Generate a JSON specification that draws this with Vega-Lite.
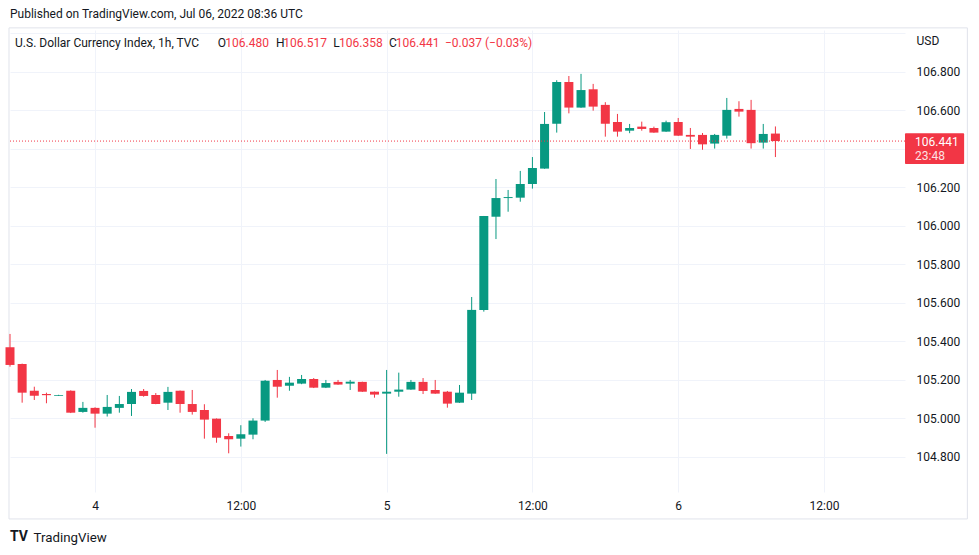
{
  "$schema": "https://vega.github.io/schema/vega-lite/v6.json",
  "width": 895,
  "height": 462,
  "autosize": {"type": "none"},
  "padding": {"left": 10, "top": 30, "right": 74, "bottom": 63},
  "background": "white",
  "title": {
    "text": "Published on TradingView.com, Jul 06, 2022 08:36 UTC",
    "anchor": "start",
    "frame": "group",
    "font": "Roboto",
    "fontSize": 12,
    "fontWeight": "normal",
    "color": "#131722",
    "offset": 6
  },
  "config": {
    "view": {"stroke": null},
    "axis": {
      "labelFont": "Roboto",
      "labelFontSize": 12,
      "labelColor": "#131722",
      "titleFont": "Roboto",
      "titleColor": "#131722",
      "titleFontWeight": "normal",
      "gridColor": "#f0f3fa",
      "gridWidth": 1,
      "domain": false,
      "ticks": false
    }
  },
  "datasets": {
    "candles": [
      {"t": "2022-07-03T17:00:00Z", "o": 105.370, "h": 105.439, "l": 105.269, "c": 105.278},
      {"t": "2022-07-03T18:00:00Z", "o": 105.283, "h": 105.285, "l": 105.082, "c": 105.134},
      {"t": "2022-07-03T19:00:00Z", "o": 105.144, "h": 105.165, "l": 105.096, "c": 105.118},
      {"t": "2022-07-03T20:00:00Z", "o": 105.127, "h": 105.134, "l": 105.079, "c": 105.121},
      {"t": "2022-07-03T21:00:00Z", "o": 105.118, "h": 105.123, "l": 105.117, "c": 105.122},
      {"t": "2022-07-03T22:00:00Z", "o": 105.144, "h": 105.146, "l": 105.028, "c": 105.030},
      {"t": "2022-07-03T23:00:00Z", "o": 105.034, "h": 105.086, "l": 105.030, "c": 105.055},
      {"t": "2022-07-04T00:00:00Z", "o": 105.055, "h": 105.058, "l": 104.952, "c": 105.025},
      {"t": "2022-07-04T01:00:00Z", "o": 105.025, "h": 105.122, "l": 105.010, "c": 105.060},
      {"t": "2022-07-04T02:00:00Z", "o": 105.055, "h": 105.117, "l": 105.030, "c": 105.075},
      {"t": "2022-07-04T03:00:00Z", "o": 105.075, "h": 105.153, "l": 105.013, "c": 105.138},
      {"t": "2022-07-04T04:00:00Z", "o": 105.143, "h": 105.153, "l": 105.113, "c": 105.117},
      {"t": "2022-07-04T05:00:00Z", "o": 105.122, "h": 105.132, "l": 105.074, "c": 105.075},
      {"t": "2022-07-04T06:00:00Z", "o": 105.082, "h": 105.164, "l": 105.044, "c": 105.138},
      {"t": "2022-07-04T07:00:00Z", "o": 105.144, "h": 105.145, "l": 105.030, "c": 105.075},
      {"t": "2022-07-04T08:00:00Z", "o": 105.075, "h": 105.148, "l": 105.020, "c": 105.034},
      {"t": "2022-07-04T09:00:00Z", "o": 105.044, "h": 105.074, "l": 104.895, "c": 104.994},
      {"t": "2022-07-04T10:00:00Z", "o": 104.999, "h": 105.000, "l": 104.874, "c": 104.900},
      {"t": "2022-07-04T11:00:00Z", "o": 104.909, "h": 104.923, "l": 104.819, "c": 104.892},
      {"t": "2022-07-04T12:00:00Z", "o": 104.895, "h": 104.965, "l": 104.854, "c": 104.918},
      {"t": "2022-07-04T13:00:00Z", "o": 104.916, "h": 105.001, "l": 104.892, "c": 104.989},
      {"t": "2022-07-04T14:00:00Z", "o": 104.989, "h": 105.200, "l": 104.982, "c": 105.196},
      {"t": "2022-07-04T15:00:00Z", "o": 105.200, "h": 105.252, "l": 105.108, "c": 105.165},
      {"t": "2022-07-04T16:00:00Z", "o": 105.170, "h": 105.216, "l": 105.144, "c": 105.186},
      {"t": "2022-07-04T17:00:00Z", "o": 105.181, "h": 105.226, "l": 105.178, "c": 105.205},
      {"t": "2022-07-04T18:00:00Z", "o": 105.205, "h": 105.210, "l": 105.158, "c": 105.160},
      {"t": "2022-07-04T19:00:00Z", "o": 105.160, "h": 105.200, "l": 105.158, "c": 105.184},
      {"t": "2022-07-04T20:00:00Z", "o": 105.190, "h": 105.200, "l": 105.175, "c": 105.176},
      {"t": "2022-07-04T21:00:00Z", "o": 105.181, "h": 105.200, "l": 105.148, "c": 105.191},
      {"t": "2022-07-04T22:00:00Z", "o": 105.190, "h": 105.191, "l": 105.138, "c": 105.139},
      {"t": "2022-07-04T23:00:00Z", "o": 105.139, "h": 105.140, "l": 105.108, "c": 105.124},
      {"t": "2022-07-05T00:00:00Z", "o": 105.129, "h": 105.252, "l": 104.816, "c": 105.139},
      {"t": "2022-07-05T01:00:00Z", "o": 105.139, "h": 105.238, "l": 105.113, "c": 105.150},
      {"t": "2022-07-05T02:00:00Z", "o": 105.150, "h": 105.200, "l": 105.149, "c": 105.190},
      {"t": "2022-07-05T03:00:00Z", "o": 105.190, "h": 105.210, "l": 105.127, "c": 105.143},
      {"t": "2022-07-05T04:00:00Z", "o": 105.148, "h": 105.200, "l": 105.128, "c": 105.129},
      {"t": "2022-07-05T05:00:00Z", "o": 105.139, "h": 105.143, "l": 105.056, "c": 105.077},
      {"t": "2022-07-05T06:00:00Z", "o": 105.082, "h": 105.174, "l": 105.081, "c": 105.134},
      {"t": "2022-07-05T07:00:00Z", "o": 105.129, "h": 105.631, "l": 105.096, "c": 105.564},
      {"t": "2022-07-05T08:00:00Z", "o": 105.564, "h": 106.052, "l": 105.555, "c": 106.052},
      {"t": "2022-07-05T09:00:00Z", "o": 106.048, "h": 106.244, "l": 105.932, "c": 106.145},
      {"t": "2022-07-05T10:00:00Z", "o": 106.145, "h": 106.187, "l": 106.074, "c": 106.150},
      {"t": "2022-07-05T11:00:00Z", "o": 106.147, "h": 106.286, "l": 106.126, "c": 106.218},
      {"t": "2022-07-05T12:00:00Z", "o": 106.218, "h": 106.358, "l": 106.194, "c": 106.301},
      {"t": "2022-07-05T13:00:00Z", "o": 106.298, "h": 106.592, "l": 106.297, "c": 106.530},
      {"t": "2022-07-05T14:00:00Z", "o": 106.531, "h": 106.757, "l": 106.485, "c": 106.748},
      {"t": "2022-07-05T15:00:00Z", "o": 106.748, "h": 106.779, "l": 106.585, "c": 106.615},
      {"t": "2022-07-05T16:00:00Z", "o": 106.615, "h": 106.790, "l": 106.614, "c": 106.706},
      {"t": "2022-07-05T17:00:00Z", "o": 106.710, "h": 106.738, "l": 106.599, "c": 106.620},
      {"t": "2022-07-05T18:00:00Z", "o": 106.629, "h": 106.643, "l": 106.464, "c": 106.531},
      {"t": "2022-07-05T19:00:00Z", "o": 106.540, "h": 106.582, "l": 106.464, "c": 106.490},
      {"t": "2022-07-05T20:00:00Z", "o": 106.495, "h": 106.530, "l": 106.482, "c": 106.509},
      {"t": "2022-07-05T21:00:00Z", "o": 106.516, "h": 106.542, "l": 106.495, "c": 106.504},
      {"t": "2022-07-05T22:00:00Z", "o": 106.509, "h": 106.516, "l": 106.484, "c": 106.485},
      {"t": "2022-07-05T23:00:00Z", "o": 106.490, "h": 106.547, "l": 106.489, "c": 106.539},
      {"t": "2022-07-06T00:00:00Z", "o": 106.540, "h": 106.561, "l": 106.468, "c": 106.469},
      {"t": "2022-07-06T01:00:00Z", "o": 106.473, "h": 106.509, "l": 106.400, "c": 106.464},
      {"t": "2022-07-06T02:00:00Z", "o": 106.473, "h": 106.483, "l": 106.396, "c": 106.424},
      {"t": "2022-07-06T03:00:00Z", "o": 106.428, "h": 106.478, "l": 106.402, "c": 106.473},
      {"t": "2022-07-06T04:00:00Z", "o": 106.469, "h": 106.665, "l": 106.454, "c": 106.603},
      {"t": "2022-07-06T05:00:00Z", "o": 106.608, "h": 106.648, "l": 106.568, "c": 106.594},
      {"t": "2022-07-06T06:00:00Z", "o": 106.603, "h": 106.655, "l": 106.402, "c": 106.430},
      {"t": "2022-07-06T07:00:00Z", "o": 106.433, "h": 106.530, "l": 106.402, "c": 106.478},
      {"t": "2022-07-06T08:00:00Z", "o": 106.480, "h": 106.517, "l": 106.358, "c": 106.441}
    ],
    "header": [
      {"t": "2022-07-03T17:25:00Z", "label": "U.S. Dollar Currency Index, 1h, TVC", "kind": "name"},
      {"t": "2022-07-04T10:06:00Z", "label": "O", "kind": "name"},
      {"t": "2022-07-04T10:43:00Z", "label": "106.480", "kind": "value"},
      {"t": "2022-07-04T14:54:00Z", "label": "H", "kind": "name"},
      {"t": "2022-07-04T15:30:00Z", "label": "106.517", "kind": "value"},
      {"t": "2022-07-04T19:37:00Z", "label": "L", "kind": "name"},
      {"t": "2022-07-04T20:05:00Z", "label": "106.358", "kind": "value"},
      {"t": "2022-07-05T00:12:00Z", "label": "C", "kind": "name"},
      {"t": "2022-07-05T00:45:00Z", "label": "106.441", "kind": "value"},
      {"t": "2022-07-05T04:48:00Z", "label": "−0.037 (−0.03%)", "kind": "value"}
    ]
  },
  "encoding": {
    "x": {
      "type": "temporal",
      "scale": {
        "type": "utc",
        "padding": 0,
        "nice": false,
        "domain": [
          {"year": 2022, "month": 7, "date": 3, "hours": 17, "utc": true},
          {"year": 2022, "month": 7, "date": 6, "hours": 18, "minutes": 40, "utc": true}
        ]
      },
      "axis": {
        "orient": "bottom",
        "grid": true,
        "values": [
          {"year": 2022, "month": 7, "date": 4, "hours": 0, "utc": true},
          {"year": 2022, "month": 7, "date": 4, "hours": 12, "utc": true},
          {"year": 2022, "month": 7, "date": 5, "hours": 0, "utc": true},
          {"year": 2022, "month": 7, "date": 5, "hours": 12, "utc": true},
          {"year": 2022, "month": 7, "date": 6, "hours": 0, "utc": true},
          {"year": 2022, "month": 7, "date": 6, "hours": 12, "utc": true}
        ],
        "labelExpr": "utchours(datum.value) == 0 ? utcFormat(datum.value, '%-d') : utcFormat(datum.value, '%H:%M')",
        "labelPadding": 8,
        "title": "TradingView",
        "titleFontSize": 13.3,
        "titleAlign": "left",
        "titleBaseline": "middle",
        "titleX": 23,
        "titleY": 45
      }
    },
    "y": {
      "type": "quantitative",
      "scale": {"domain": [104.618, 107.018], "nice": false, "zero": false},
      "axis": {
        "orient": "right",
        "grid": true,
        "values": [104.8, 105.0, 105.2, 105.4, 105.6, 105.8, 106.0, 106.2, 106.4, 106.6, 106.8, 107.0],
        "labelExpr": "datum.value > 106.95 || abs(datum.value - 106.4) < 0.001 ? '' : format(datum.value, '.3f')",
        "labelAlign": "left",
        "labelPadding": 11,
        "title": "USD",
        "titleFontSize": 12,
        "titleAngle": 0,
        "titleAlign": "left",
        "titleBaseline": "middle",
        "titleX": 11,
        "titleY": 10
      }
    }
  },
  "layer": [
    {
      "data": {"values": [{}]},
      "mark": {"type": "rect", "clip": false, "fill": null, "stroke": "#e0e3eb", "strokeWidth": 1},
      "encoding": {
        "x": {"datum": {"year": 2022, "month": 7, "date": 3, "hours": 16, "minutes": 55, "utc": true}},
        "x2": {"datum": {"year": 2022, "month": 7, "date": 6, "hours": 23, "minutes": 48, "utc": true}},
        "y": {"datum": 107.029},
        "y2": {"datum": 104.478}
      }
    },
    {
      "data": {"name": "candles"},
      "mark": {"type": "rule", "strokeWidth": 1},
      "encoding": {
        "x": {"field": "t"},
        "y": {"field": "l"},
        "y2": {"field": "h"},
        "color": {"condition": {"test": "datum.c >= datum.o", "value": "#089981"}, "value": "#f23645"}
      }
    },
    {
      "data": {"name": "candles"},
      "mark": {"type": "bar", "size": 9},
      "encoding": {
        "x": {"field": "t"},
        "y": {"field": "o"},
        "y2": {"field": "c"},
        "color": {"condition": {"test": "datum.c >= datum.o", "value": "#089981"}, "value": "#f23645"},
        "tooltip": [
          {"field": "t", "type": "temporal", "format": "%b %d %H:%M", "formatType": "utc"},
          {"field": "o", "title": "Open"},
          {"field": "h", "title": "High"},
          {"field": "l", "title": "Low"},
          {"field": "c", "title": "Close"}
        ]
      }
    },
    {
      "data": {"values": [{}]},
      "mark": {"type": "rule", "color": "#f23645", "strokeWidth": 1, "strokeDash": [1, 2]},
      "encoding": {
        "x": {"datum": {"year": 2022, "month": 7, "date": 3, "hours": 17, "utc": true}},
        "x2": {"datum": {"year": 2022, "month": 7, "date": 6, "hours": 18, "minutes": 40, "utc": true}},
        "y": {"datum": 106.441}
      }
    },
    {
      "data": {"values": [{}]},
      "mark": {"type": "rect", "clip": false, "color": "#f23645", "cornerRadius": 1},
      "encoding": {
        "x": {"datum": {"year": 2022, "month": 7, "date": 6, "hours": 18, "minutes": 40, "utc": true}},
        "x2": {"datum": {"year": 2022, "month": 7, "date": 6, "hours": 23, "minutes": 32, "utc": true}},
        "y": {"datum": 106.482},
        "y2": {"datum": 106.322}
      }
    },
    {
      "data": {"values": [{}]},
      "mark": {"type": "text", "clip": false, "align": "left", "baseline": "middle", "font": "Roboto", "fontSize": 12, "color": "white", "text": "106.441"},
      "encoding": {
        "x": {"datum": {"year": 2022, "month": 7, "date": 6, "hours": 19, "minutes": 30, "utc": true}},
        "y": {"datum": 106.435}
      }
    },
    {
      "data": {"values": [{}]},
      "mark": {"type": "text", "clip": false, "align": "left", "baseline": "middle", "font": "Roboto", "fontSize": 12, "color": "white", "opacity": 0.85, "text": "23:48"},
      "encoding": {
        "x": {"datum": {"year": 2022, "month": 7, "date": 6, "hours": 19, "minutes": 30, "utc": true}},
        "y": {"datum": 106.364}
      }
    },
    {
      "data": {"name": "header"},
      "mark": {"type": "text", "align": "left", "baseline": "middle", "font": "Roboto", "fontSize": 12},
      "encoding": {
        "x": {"field": "t"},
        "y": {"datum": 106.952},
        "text": {"field": "label"},
        "color": {
          "field": "kind",
          "type": "nominal",
          "scale": {"domain": ["name", "value"], "range": ["#131722", "#f23645"]},
          "legend": null
        }
      }
    },
    {
      "data": {"values": [{}]},
      "mark": {"type": "text", "clip": false, "align": "left", "baseline": "middle", "font": "Roboto", "fontSize": 14, "fontWeight": "bold", "color": "#131722", "text": "TV"},
      "encoding": {
        "x": {"datum": {"year": 2022, "month": 7, "date": 3, "hours": 17, "utc": true}},
        "y": {"datum": 104.384}
      }
    }
  ]
}
